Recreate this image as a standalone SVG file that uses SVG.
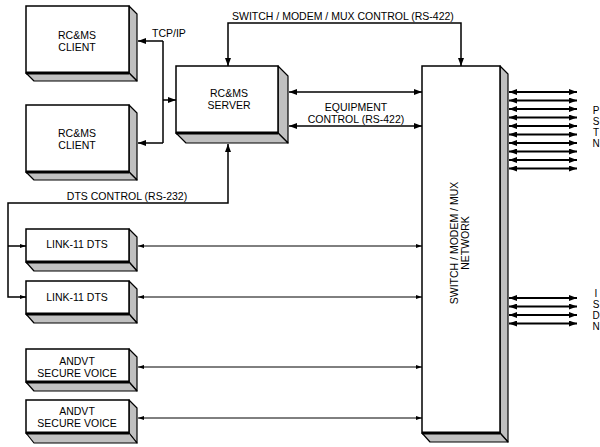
<svg xmlns="http://www.w3.org/2000/svg" width="600" height="447" viewBox="0 0 600 447">
<style>
text{font-family:"Liberation Sans",Arial,sans-serif;font-size:10.5px;fill:#000}
.c{text-anchor:middle}
.l{font-size:10px}
.front{fill:#fff;stroke:#000;stroke-width:1.5}
.shade{fill:#c0c0c0;stroke:#000;stroke-width:1.2;stroke-linejoin:round}
.base{stroke:#000;stroke-width:3}
.thick{fill:none;stroke:#000;stroke-width:1.5}
.thin{fill:none;stroke:#000;stroke-width:1}
.ext{fill:none;stroke:#000;stroke-width:2}
</style>
<defs>
<marker id="a" markerUnits="userSpaceOnUse" markerWidth="8" markerHeight="6" refX="8" refY="3" orient="auto-start-reverse"><path d="M0,0 L8,3 L0,6 z" fill="#000"/></marker>
<marker id="s" markerUnits="userSpaceOnUse" markerWidth="6" markerHeight="4" refX="6" refY="2" orient="auto-start-reverse"><path d="M0,0 L6,2 L0,4 z" fill="#000"/></marker>
</defs>

<g id="client1">
<polygon class="shade" points="129,6 137,14 137,81 129,73"/>
<polygon class="shade" points="26,73 129,73 137,81 34,81"/>
<rect class="front" x="26" y="6" width="103" height="67"/>
<line class="base" x1="26" y1="73" x2="129" y2="73"/>
<text class="c" x="77" y="39">RC&amp;MS</text>
<text class="c" x="77" y="51">CLIENT</text>
</g>

<g id="client2">
<polygon class="shade" points="129,105 137,113 137,180 129,172"/>
<polygon class="shade" points="26,172 129,172 137,180 34,180"/>
<rect class="front" x="26" y="105" width="103" height="67"/>
<line class="base" x1="26" y1="172" x2="129" y2="172"/>
<text class="c" x="77" y="137">RC&amp;MS</text>
<text class="c" x="77" y="149">CLIENT</text>
</g>

<g id="server">
<polygon class="shade" points="278,66 288,76 288,143 278,133"/>
<polygon class="shade" points="176,133 278,133 288,143 186,143"/>
<rect class="front" x="176" y="66" width="102" height="67"/>
<line class="base" x1="176" y1="133" x2="278" y2="133"/>
<text class="c" x="229" y="97">RC&amp;MS</text>
<text class="c" x="229" y="109">SERVER</text>
</g>

<g id="network">
<polygon class="shade" points="500,66 508,74 508,442 500,433"/>
<polygon class="shade" points="422,433 500,433 508,442 430,442"/>
<rect class="front" x="422" y="66" width="78" height="367"/>
<line class="base" x1="422" y1="433" x2="500" y2="433"/>
<g transform="translate(460,243) rotate(-90)">
<text class="c" x="0" y="-2">SWITCH /  MODEM / MUX</text>
<text class="c" x="0" y="9">NETWORK</text>
</g>
</g>

<g id="dts1">
<polygon class="shade" points="129,229 137,237 137,271 129,262"/>
<polygon class="shade" points="26,262 129,262 137,271 34,271"/>
<rect class="front" x="26" y="229" width="103" height="33"/>
<line class="base" x1="26" y1="262" x2="129" y2="262"/>
<text class="c" x="77" y="248">LINK-11 DTS</text>
</g>

<g id="dts2">
<polygon class="shade" points="129,281 137,289 137,323 129,314"/>
<polygon class="shade" points="26,314 129,314 137,323 34,323"/>
<rect class="front" x="26" y="281" width="103" height="33"/>
<line class="base" x1="26" y1="314" x2="129" y2="314"/>
<text class="c" x="77" y="301">LINK-11 DTS</text>
</g>

<g id="andvt1">
<polygon class="shade" points="129,349 137,357 137,391 129,382"/>
<polygon class="shade" points="26,382 129,382 137,391 34,391"/>
<rect class="front" x="26" y="349" width="103" height="33"/>
<line class="base" x1="26" y1="382" x2="129" y2="382"/>
<text class="c" x="77" y="365">ANDVT</text>
<text class="c" x="77" y="377">SECURE VOICE</text>
</g>

<g id="andvt2">
<polygon class="shade" points="129,400 137,408 137,443 129,433"/>
<polygon class="shade" points="26,433 129,433 137,443 34,443"/>
<rect class="front" x="26" y="400" width="103" height="33"/>
<line class="base" x1="26" y1="433" x2="129" y2="433"/>
<text class="c" x="77" y="415">ANDVT</text>
<text class="c" x="77" y="427">SECURE VOICE</text>
</g>

<g id="connectors">
<path class="thick" d="M163,41 V143"/>
<line class="thick" x1="163" y1="41" x2="138" y2="41" marker-end="url(#a)"/>
<line class="thick" x1="163" y1="143" x2="138" y2="143" marker-end="url(#a)"/>
<line class="thick" x1="163" y1="100" x2="176" y2="100" marker-end="url(#a)"/>
<path class="thick" d="M228,66 V23 H461 V66" marker-start="url(#a)" marker-end="url(#a)"/>
<line class="thick" x1="289" y1="92" x2="422" y2="92" marker-start="url(#a)" marker-end="url(#a)"/>
<line class="thick" x1="289" y1="126" x2="422" y2="126" marker-start="url(#a)" marker-end="url(#a)"/>
<path class="thick" d="M228,144 V203 H8 V297 H26" marker-start="url(#a)" marker-end="url(#s)"/>
<path class="thick" d="M8,246 H26" marker-end="url(#s)"/>
<line class="thin" x1="138" y1="246" x2="422" y2="246" marker-start="url(#s)" marker-end="url(#s)"/>
<line class="thin" x1="138" y1="297" x2="422" y2="297" marker-start="url(#s)" marker-end="url(#s)"/>
<line class="thin" x1="138" y1="367" x2="422" y2="367" marker-start="url(#s)" marker-end="url(#s)"/>
<line class="thin" x1="138" y1="418" x2="422" y2="418" marker-start="url(#s)" marker-end="url(#s)"/>
<g marker-start="url(#a)" marker-end="url(#a)">
<line class="ext" x1="509" y1="92" x2="577" y2="92"/>
<line class="ext" x1="509" y1="100.5" x2="577" y2="100.5"/>
<line class="ext" x1="509" y1="109" x2="577" y2="109"/>
<line class="ext" x1="509" y1="117.5" x2="577" y2="117.5"/>
<line class="ext" x1="509" y1="126" x2="577" y2="126"/>
<line class="ext" x1="509" y1="134.5" x2="577" y2="134.5"/>
<line class="ext" x1="509" y1="143" x2="577" y2="143"/>
<line class="ext" x1="509" y1="151.5" x2="577" y2="151.5"/>
<line class="ext" x1="509" y1="160" x2="577" y2="160"/>
<line class="ext" x1="509" y1="168.5" x2="577" y2="168.5"/>
<line class="ext" x1="509" y1="298" x2="577" y2="298"/>
<line class="ext" x1="509" y1="306.5" x2="577" y2="306.5"/>
<line class="ext" x1="509" y1="315" x2="577" y2="315"/>
<line class="ext" x1="509" y1="323.5" x2="577" y2="323.5"/>
</g>
</g>

<g id="labels">
<text x="152" y="37">TCP/IP</text>
<text x="232" y="20">SWITCH / MODEM / MUX CONTROL (RS-422)</text>
<text class="c" x="356" y="111">EQUIPMENT</text>
<text class="c" x="356" y="123">CONTROL (RS-422)</text>
<text class="c" x="127" y="200">DTS CONTROL (RS-232)</text>
<text class="c l" x="596" y="114">P</text>
<text class="c l" x="596" y="125">S</text>
<text class="c l" x="596" y="136">T</text>
<text class="c l" x="596" y="147">N</text>
<text class="c l" x="596" y="297">I</text>
<text class="c l" x="596" y="308">S</text>
<text class="c l" x="596" y="319">D</text>
<text class="c l" x="596" y="330">N</text>
</g>
</svg>
